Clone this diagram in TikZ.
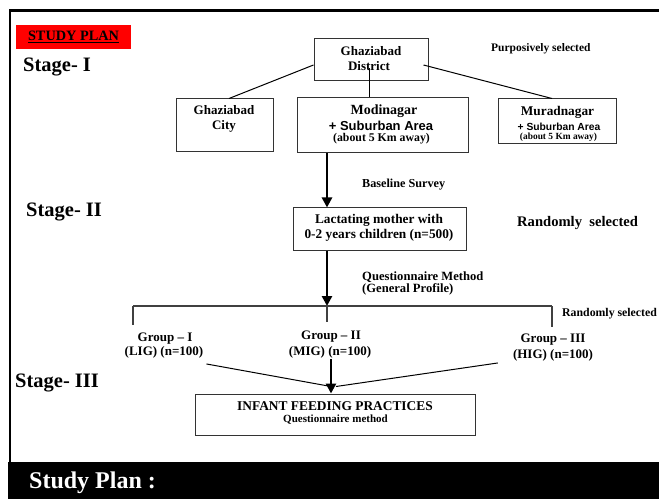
\documentclass[tikz,border=0pt]{standalone}
\usepackage{fontspec}
\setmainfont{Liberation Serif}
\newfontfamily\sansbf{Liberation Sans}
\usetikzlibrary{arrows.meta,calc}
\newcommand\myfs[1]{\fontsize{#1bp}{#1bp}\selectfont}
\begin{document}
\begin{tikzpicture}[x=1bp,y=-1bp,
  box/.style={draw=black!80, line width=1bp, inner sep=0pt},
  lbl/.style={inner sep=0pt, anchor=base},
  lblw/.style={inner sep=0pt, anchor=base west},
  conn/.style={draw=black, line width=1bp},
  bracket/.style={draw=black!75, line width=1.3bp},
  bigarrow/.style={draw=black, line width=2.5bp, -{Triangle[length=10bp,width=10bp]}}]
\useasboundingbox[fill=white] (0,0) rectangle (659,499);
% frame and bottom band
\draw[line width=2.5bp] (10,480) -- (10,10.5) -- (670,10.5);
\fill[black] (8,462) rectangle (670,510);
\node[lblw, text=white, font=\bfseries\myfs{24}] (sp) at (29,488) {Study Plan :};
% title tag
\node[fill={rgb,255:red,255;green,0;blue,0}, minimum width=115bp, minimum height=24bp,
      inner sep=0pt, text height=10bp, text depth=2bp, font=\bfseries\myfs{14.3}] (tag) at (73.5,37) {\underline{STUDY PLAN}};
% stage labels
\node[lblw, font=\bfseries\myfs{20.5}] (s1) at (23,72) {Stage- I};
\node[lblw, font=\bfseries\myfs{20.5}] (s2) at (26,217) {Stage- II};
\node[lblw, font=\bfseries\myfs{20.5}] (s3) at (15,387) {Stage- III};
% boxes
\node[box, minimum width=114bp, minimum height=42bp] (dist) at (371,60) {};
\node[box, minimum width=97bp, minimum height=53bp] (city) at (224.5,125.5) {};
\node[box, minimum width=171bp, minimum height=55bp] (modi) at (382.5,125.5) {};
\node[box, minimum width=118bp, minimum height=45bp] (murad) at (557,121.5) {};
\node[box, minimum width=173bp, minimum height=42bp] (lact) at (379.5,229) {};
\node[box, minimum width=280bp, minimum height=41bp] (infant) at (335,414.5) {};
% box texts
\node[lbl, font=\bfseries\myfs{13}] (dist1) at (371,56) {Ghaziabad};
\node[lbl, font=\bfseries\myfs{13}] (dist2) at (369,71) {District};
\node[lbl, font=\bfseries\myfs{13}] (city1) at (224,115) {Ghaziabad};
\node[lbl, font=\bfseries\myfs{13}] (city2) at (224,130) {City};
\node[lbl, font=\bfseries\myfs{14}] (modi1) at (384,115) {Modinagar};
\node[lbl, font=\sansbf\bfseries\myfs{13}] (modi2) at (381,131) {+ Suburban Area};
\node[lbl, font=\bfseries\myfs{11.8}] (modi3) at (381.5,142) {(about 5 Km away)};
\node[lbl, font=\bfseries\myfs{13.3}] (murad1) at (557.5,116) {Muradnagar};
\node[lbl, font=\sansbf\bfseries\myfs{10.3}] (murad2) at (559,131) {+ Suburban Area};
\node[lbl, font=\bfseries\myfs{9.4}] (murad3) at (558.5,140) {(about 5 Km away)};
\node[lbl, font=\bfseries\myfs{13.3}] (lact1) at (379,224) {Lactating mother with};
\node[lbl, font=\bfseries\myfs{13.3}] (lact2) at (379,239) {0-2 years children (n=500)};
\node[lbl, font=\bfseries\myfs{13.4}] (inf1) at (335,410) {INFANT FEEDING PRACTICES};
\node[lbl, font=\bfseries\myfs{11}] (inf2) at (335.5,422) {Questionnaire method};
% side notes
\node[lblw, font=\bfseries\myfs{11.5}] (purp) at (491,52) {Purposively selected};
\node[lblw, font=\bfseries\myfs{12.2}] (bs) at (362,188) {Baseline Survey};
\node[lblw, font=\bfseries\myfs{14.6}] (rand1) at (517,227) {Randomly\ \ selected};
\node[lblw, font=\bfseries\myfs{12.6}] (qm1) at (362,280) {Questionnaire Method};
\node[lblw, font=\bfseries\myfs{12.6}] (qm2) at (362,292) {(General Profile)};
\node[lblw, font=\bfseries\myfs{11.8}] (rand2) at (562,316) {Randomly selected};
% groups
\node[lbl, font=\bfseries\myfs{13}] (g1a) at (165,341) {Group – I};
\node[lbl, font=\bfseries\myfs{13}] (g1b) at (164,355) {(LIG) (n=100)};
\node[lbl, font=\bfseries\myfs{13}] (g2a) at (331,339) {Group – II};
\node[lbl, font=\bfseries\myfs{13}] (g2b) at (330,355) {(MIG) (n=100)};
\node[lbl, font=\bfseries\myfs{13}] (g3a) at (553,342) {Group – III};
\node[lbl, font=\bfseries\myfs{13}] (g3b) at (553,358) {(HIG) (n=100)};
% stage I connectors
\draw[conn] ($(dist.west)+(0,5)$) -- ($(city.north)+(4.5,0)$);
\draw[conn] ($(dist.center)+(-2,8)$) -- ($(modi.north)+(-13.5,0)$);
\draw[conn] ($(dist.east)+(-5,5)$) -- ($(murad.north)+(-5,0)$);
% main arrows
\coordinate (ax) at (327,0);
\draw[bigarrow] (modi.south -| ax) -- (lact.north -| ax);
\coordinate (bm) at (327,306);
\coordinate (bl) at (133,306);
\coordinate (br) at (552,306);
\draw[bigarrow] (lact.south -| bm) -- (bm);
% bracket
\coordinate (blt) at (133,325);
\coordinate (bmt) at (327,322);
\coordinate (brt) at (552,327);
\draw[bracket] (bl) -- (br);
\draw[bracket] (bl) -- (blt);
\draw[bracket] (bm) -- (bmt);
\draw[bracket] (br) -- (brt);
% stage III connectors
\draw[conn] ($(g1b.south east)+(3,6)$) -- ($(infant.north)+(-4,-7)$);
\draw[conn] ($(g3b.south west)+(-15,2)$) -- ($(infant.north)+(1,-7)$);
\coordinate (g2s) at ($(g2b.south)+(1,1)$);
\draw[bigarrow] (g2s) -- (g2s |- infant.north);
\end{tikzpicture}
\end{document}
